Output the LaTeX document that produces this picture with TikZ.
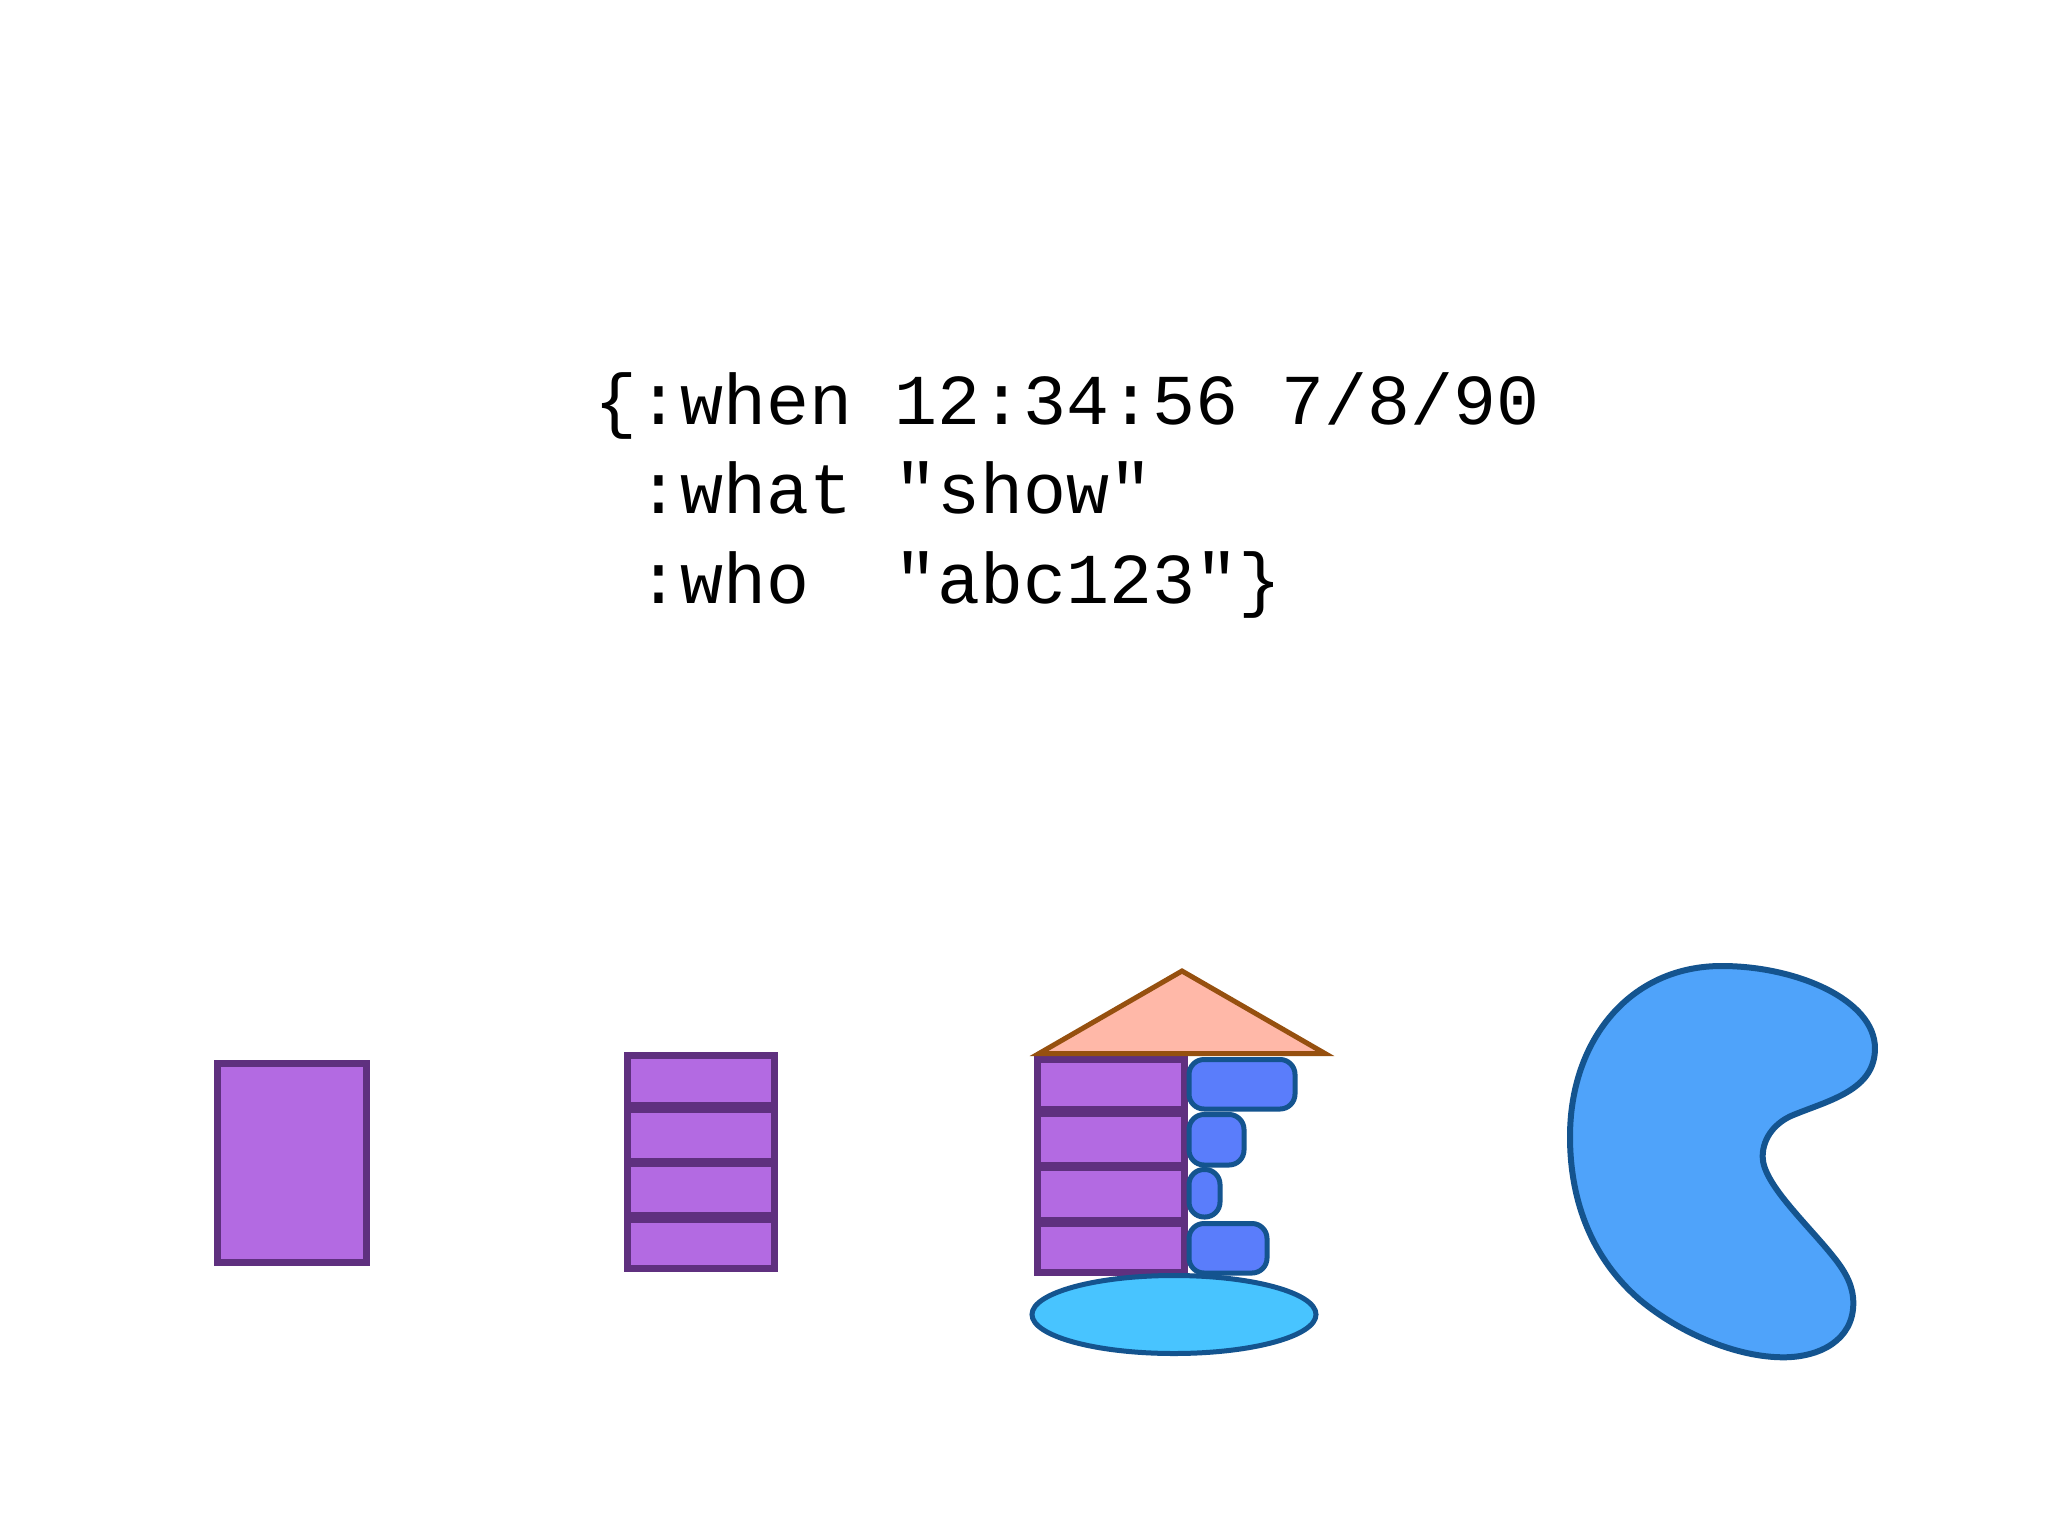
\documentclass[tikz,border=0pt]{standalone}
\usepackage{fontspec}
\newfontfamily\codefont{Liberation Mono}
\definecolor{cellfill}{HTML}{B36AE2}
\definecolor{cellline}{HTML}{5F307F}
\definecolor{tabfill}{HTML}{5A7DFB}
\definecolor{deepline}{HTML}{14548F}
\definecolor{roof}{HTML}{FFB8A8}
\definecolor{roofline}{HTML}{96500F}
\definecolor{disc}{HTML}{48C4FF}
\definecolor{blobfill}{HTML}{4FA3FA}
\tikzset{
  cell/.style={draw=cellline,fill=cellfill,line width=7pt,line join=miter},
  tab/.style={draw=deepline,fill=tabfill,line width=5pt,rounded corners=15pt},
  code/.style={font=\codefont\fontsize{71.6}{86}\selectfont,anchor=base west,inner sep=0pt,text=black}
}
\begin{document}
\begin{tikzpicture}[x=1pt,y=-1pt]
\useasboundingbox (0,0) rectangle (2048,1536);
\fill[white] (0,0) rectangle (2048,1536);
% code text
\node[code] (line1) at (594,424) {\{:when 12:34:56 7/8/90};
\node[code] (line2) at (637,513) {:what "show"};
\node[code] (line3) at (637,603) {:who\ \ "abc123"\}};
% single block
\draw[cell] (217.5,1063.5) rectangle (366.5,1262.5);
% split block
\draw[cell] (627.5,1055.5) rectangle (774.5,1105);
\draw[cell] (627.5,1109) rectangle (774.5,1161);
\draw[cell] (627.5,1163) rectangle (774.5,1215);
\draw[cell] (627.5,1219) rectangle (774.5,1268.5);
% composed block
\draw[cell] (1037.5,1059) rectangle (1184.5,1109);
\draw[cell] (1037.5,1113) rectangle (1184.5,1165);
\draw[cell] (1037.5,1167) rectangle (1184.5,1220);
\draw[cell] (1037.5,1223) rectangle (1184.5,1272.5);
\draw[tab] (1189,1059.5) rectangle (1295,1109);
\draw[tab] (1189,1114.5) rectangle (1244,1165);
\draw[tab] (1189,1169.5) rectangle (1220,1217);
\draw[tab] (1189,1223.5) rectangle (1267,1273);
\draw[draw=roofline,fill=roof,line width=5pt,line join=miter] (1182,971) -- (1325,1053.5) -- (1039,1053.5) -- cycle;
\draw[draw=deepline,fill=disc,line width=5pt] (1174,1314.5) ellipse [x radius=142,y radius=39];
% blob
\begin{scope}[shift={(1540,950)},x=0.3333pt,y=-0.3333pt]
\draw[draw=deepline,fill=blobfill,line width=6pt] (545,48)
  .. controls (770,48) and (1005,150) .. (1005,295)
  .. controls (1005,420) and (870,450) .. (760,495)
  .. controls (710,515) and (668,560) .. (668,620)
  .. controls (668,700) and (800,820) .. (880,920)
  .. controls (920,970) and (940,1010) .. (940,1060)
  .. controls (940,1170) and (840,1222) .. (730,1222)
  .. controls (590,1222) and (420,1150) .. (300,1050)
  .. controls (160,930) and (90,760) .. (90,560)
  .. controls (90,270) and (270,48) .. (545,48) -- cycle;
\end{scope}
\end{tikzpicture}
\end{document}
